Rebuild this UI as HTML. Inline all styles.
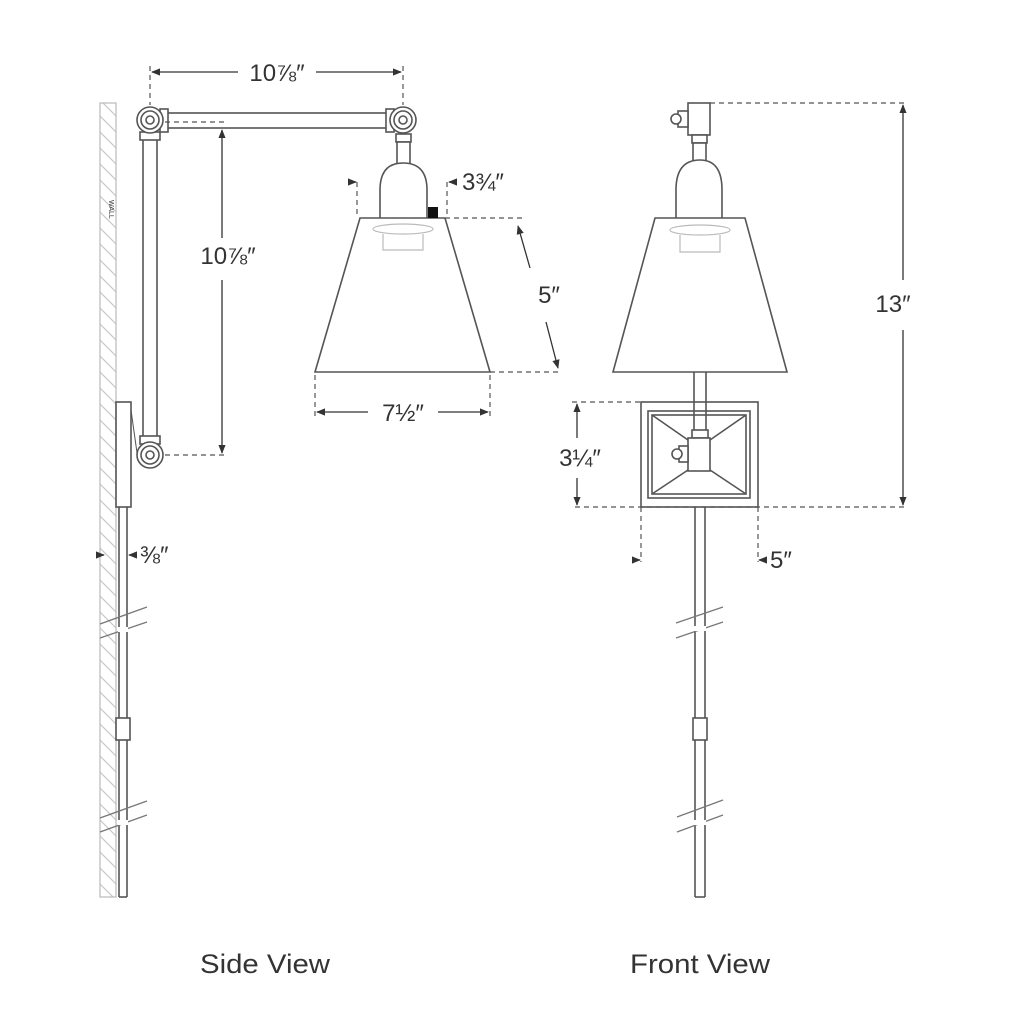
<!DOCTYPE html>
<html><head><meta charset="utf-8"><style>
html,body{margin:0;padding:0;background:#fff;}
svg{display:block;}
text{font-family:"Liberation Sans","DejaVu Sans",sans-serif;fill:#333;}
</style></head><body>
<svg width="1013" height="1024" viewBox="0 0 1013 1024" xmlns="http://www.w3.org/2000/svg">
<defs>
<pattern id="hatch" width="16" height="16" patternUnits="userSpaceOnUse">
<path d="M0,0 L16,16 M-8,8 L8,24 M8,-8 L24,8" stroke="#c8c8c8" stroke-width="1.2"/>
</pattern>
<marker id="ar" viewBox="0 0 10 10" refX="9" refY="5" markerWidth="7" markerHeight="7" orient="auto-start-reverse">
<path d="M0,1 L10,5 L0,9 z" fill="#333"/>
</marker>
</defs>
<g fill="none" stroke="#555" stroke-width="1.6">
<!-- WALL -->
<rect x="100" y="103" width="16" height="794" fill="url(#hatch)" stroke="#bbb" stroke-width="1.2"/>
<!-- backplate -->
<rect x="116" y="402" width="15" height="105" fill="#fff"/>
<line x1="131" y1="410" x2="138" y2="460" stroke-width="1"/>
<!-- cord side -->
<line x1="119" y1="507" x2="119" y2="897"/>
<line x1="127" y1="507" x2="127" y2="897"/>
<line x1="119" y1="897" x2="127" y2="897"/>
<rect x="116" y="718" width="14" height="22" fill="#fff"/>
<!-- breaks side -->
<g stroke="#777" stroke-width="1.3">
<line x1="100" y1="624" x2="147" y2="607"/><line x1="100" y1="638" x2="147" y2="622"/>
<line x1="100" y1="818" x2="147" y2="801"/><line x1="100" y1="832" x2="147" y2="815"/>
</g>
<rect x="118" y="627" width="10" height="5" fill="#fff" stroke="none"/>
<rect x="118" y="820" width="10" height="5" fill="#fff" stroke="none"/>
<!-- vertical arm -->
<rect x="143" y="138" width="14" height="302" fill="#fff"/>
<rect x="140" y="132" width="20" height="8" fill="#fff"/>
<rect x="140" y="436" width="20" height="8" fill="#fff"/>
<!-- horizontal arm -->
<rect x="165" y="113" width="225" height="15" fill="#fff"/>
<rect x="160" y="109" width="8" height="23" fill="#fff"/>
<rect x="386" y="109" width="8" height="23" fill="#fff"/>
<!-- joints -->
<circle cx="150" cy="120" r="13" fill="#fff"/><circle cx="150" cy="120" r="9"/><circle cx="150" cy="120" r="4"/>
<circle cx="150" cy="455" r="13" fill="#fff"/><circle cx="150" cy="455" r="9"/><circle cx="150" cy="455" r="4"/>
<circle cx="403" cy="120" r="13" fill="#fff"/><circle cx="403" cy="120" r="9"/><circle cx="403" cy="120" r="4"/>
<!-- neck & bulb side -->
<rect x="396" y="134" width="15" height="8" fill="#fff"/>
<rect x="397" y="142" width="13" height="22" fill="#fff"/>
<path d="M380,218 L380,190 Q380,163 403,163 Q427,163 427,190 L427,218" fill="#fff"/>
<!-- shade side -->
<path d="M360,218 L445,218 L490,372 L315,372 Z" fill="#fff"/>
<ellipse cx="403" cy="229" rx="30" ry="5" stroke="#bbb" stroke-width="1.2"/>
<path d="M383,234 L383,250 L423,250 L423,234" stroke="#bbb" stroke-width="1.2"/>
<rect x="428" y="207" width="10" height="11" fill="#111" stroke="none"/>
<!-- FRONT VIEW -->
<rect x="688" y="103" width="22" height="32" fill="#fff"/>
<rect x="678" y="111" width="10" height="16" fill="#fff"/>
<circle cx="676" cy="119" r="5" fill="#fff"/>
<rect x="692" y="135" width="15" height="8" fill="#fff"/>
<rect x="693" y="143" width="13" height="20" fill="#fff"/>
<path d="M676,218 L676,190 Q676,160 700,160 Q722,160 722,190 L722,218" fill="#fff"/>
<path d="M655,218 L745,218 L787,372 L613,372 Z" fill="#fff"/>
<ellipse cx="700" cy="230" rx="30" ry="5" stroke="#bbb" stroke-width="1.2"/>
<path d="M680,235 L680,252 L720,252 L720,235" stroke="#bbb" stroke-width="1.2"/>
<line x1="694" y1="372" x2="694" y2="430"/><line x1="706" y1="372" x2="706" y2="430"/>
<rect x="641" y="402" width="117" height="105" fill="#fff"/>
<rect x="648" y="411" width="102" height="87"/>
<rect x="652" y="415" width="94" height="79"/>
<line x1="652" y1="415" x2="688" y2="440"/><line x1="746" y1="415" x2="710" y2="440"/>
<line x1="652" y1="494" x2="688" y2="470"/><line x1="746" y1="494" x2="710" y2="470"/>
<line x1="694" y1="402" x2="694" y2="430"/><line x1="706" y1="402" x2="706" y2="430"/>
<rect x="692" y="430" width="16" height="8" fill="#fff"/>
<rect x="688" y="438" width="22" height="33" fill="#fff"/>
<rect x="679" y="446" width="9" height="16" fill="#fff"/>
<circle cx="677" cy="454" r="5" fill="#fff"/>
<line x1="695" y1="507" x2="695" y2="897"/><line x1="705" y1="507" x2="705" y2="897"/>
<line x1="695" y1="897" x2="705" y2="897"/>
<rect x="693" y="718" width="14" height="22" fill="#fff"/>
<g stroke="#777" stroke-width="1.3">
<line x1="676" y1="623" x2="723" y2="607"/><line x1="676" y1="638" x2="723" y2="622"/>
<line x1="677" y1="817" x2="723" y2="800"/><line x1="677" y1="832" x2="723" y2="815"/>
</g>
<rect x="694" y="626" width="12" height="5" fill="#fff" stroke="none"/>
<rect x="694" y="820" width="12" height="5" fill="#fff" stroke="none"/>
</g>
<!-- DIMENSIONS -->
<g fill="none" stroke="#555" stroke-width="1.2" stroke-dasharray="5,4">
<line x1="150" y1="66" x2="150" y2="105"/><line x1="403" y1="66" x2="403" y2="105"/>
<line x1="165" y1="122" x2="228" y2="122"/><line x1="165" y1="455" x2="228" y2="455"/>
<line x1="357" y1="182" x2="357" y2="218"/><line x1="447" y1="182" x2="447" y2="218"/>
<line x1="445" y1="218" x2="525" y2="218"/><line x1="490" y1="372" x2="562" y2="372"/>
<line x1="315" y1="375" x2="315" y2="418"/><line x1="490" y1="375" x2="490" y2="418"/>
<line x1="710" y1="103" x2="908" y2="103"/><line x1="575" y1="507" x2="908" y2="507"/>
<line x1="572" y1="402" x2="641" y2="402"/>
<line x1="641" y1="507" x2="641" y2="562"/><line x1="758" y1="507" x2="758" y2="562"/>
</g>
<g fill="none" stroke="#333" stroke-width="1.3">
<line x1="152" y1="72" x2="238" y2="72" marker-start="url(#ar)"/>
<line x1="316" y1="72" x2="401" y2="72" marker-end="url(#ar)"/>
<line x1="222" y1="130" x2="222" y2="238" marker-start="url(#ar)"/>
<line x1="222" y1="280" x2="222" y2="453" marker-end="url(#ar)"/>
<line x1="518" y1="226" x2="530" y2="268" marker-start="url(#ar)"/>
<line x1="546" y1="322" x2="558" y2="368" marker-end="url(#ar)"/>
<line x1="317" y1="412" x2="368" y2="412" marker-start="url(#ar)"/>
<line x1="438" y1="412" x2="488" y2="412" marker-end="url(#ar)"/>
<line x1="350" y1="182" x2="356" y2="182" marker-end="url(#ar)"/>
<line x1="455" y1="182" x2="449" y2="182" marker-end="url(#ar)"/>
<line x1="98" y1="555" x2="104" y2="555" marker-end="url(#ar)"/>
<line x1="136" y1="555" x2="129" y2="555" marker-end="url(#ar)"/>
<line x1="903" y1="105" x2="903" y2="280" marker-start="url(#ar)"/>
<line x1="903" y1="330" x2="903" y2="505" marker-end="url(#ar)"/>
<line x1="577" y1="404" x2="577" y2="438" marker-start="url(#ar)"/>
<line x1="577" y1="478" x2="577" y2="505" marker-end="url(#ar)"/>
<line x1="634" y1="560" x2="640" y2="560" marker-end="url(#ar)"/>
<line x1="765" y1="560" x2="759" y2="560" marker-end="url(#ar)"/>
</g>
<g font-size="24">
<text x="277" y="81" text-anchor="middle">10⅞″</text>
<text x="228" y="264" text-anchor="middle">10⅞″</text>
<text x="462" y="190">3¾″</text>
<text x="549" y="303" text-anchor="middle">5″</text>
<text x="403" y="421" text-anchor="middle">7½″</text>
<text x="140" y="563">⅜″</text>
<text x="893" y="312" text-anchor="middle">13″</text>
<text x="580" y="466" text-anchor="middle">3¼″</text>
<text x="770" y="568">5″</text>
</g>
<text x="109" y="200" font-size="7" fill="#bbb" transform="rotate(90 109 200)">WALL</text>
<g font-size="27">
<text x="200" y="973" textLength="130" lengthAdjust="spacingAndGlyphs">Side View</text>
<text x="630" y="973" textLength="140" lengthAdjust="spacingAndGlyphs">Front View</text>
</g>
</svg>
</body></html>
